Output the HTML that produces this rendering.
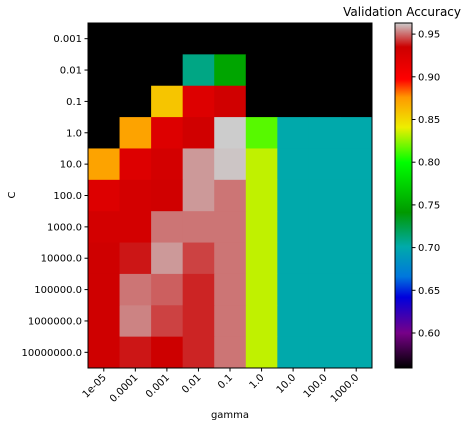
<!DOCTYPE html>
<html><head><meta charset="utf-8"><style>
body{margin:0;background:#fff;}
svg{display:block;font-family:"DejaVu Sans","Liberation Sans",sans-serif;}
</style></head><body>
<svg id="chart" width="469" height="428" viewBox="0 0 469 428" xmlns="http://www.w3.org/2000/svg">
<text x="461" y="16" text-anchor="end" font-size="12">Validation Accuracy</text>
<text x="230" y="418" text-anchor="middle" font-size="10">gamma</text>
<text x="15" y="195" text-anchor="middle" font-size="10" transform="rotate(-90 15 195)">C</text>
<defs><linearGradient id="cbg" x1="0" y1="1" x2="0" y2="0"></linearGradient></defs>
<g id="cells"></g><g id="axes"></g><g id="cbar"></g>
</svg>
<script>
const gammas = ["1e-05","0.0001","0.001","0.01","0.1","1.0","10.0","100.0","1000.0"];
const Cs = ["0.001","0.01","0.1","1.0","10.0","100.0","1000.0","10000.0","100000.0","1000000.0","10000000.0"];
const scores = [
 [0.55,0.55,0.55,0.55,0.55,0.55,0.55,0.55,0.55],
 [0.55,0.55,0.55,0.71,0.748,0.55,0.55,0.55,0.55],
 [0.55,0.55,0.858,0.922,0.932,0.55,0.55,0.55,0.55],
 [0.55,0.872,0.922,0.932,0.963,0.815,0.70,0.70,0.70],
 [0.872,0.922,0.93,0.956,0.962,0.833,0.70,0.70,0.70],
 [0.922,0.93,0.932,0.956,0.951,0.833,0.70,0.70,0.70],
 [0.93,0.93,0.951,0.951,0.951,0.833,0.70,0.70,0.70],
 [0.933,0.938,0.956,0.944,0.951,0.833,0.70,0.70,0.70],
 [0.933,0.951,0.948,0.940,0.951,0.833,0.70,0.70,0.70],
 [0.933,0.953,0.944,0.940,0.951,0.833,0.70,0.70,0.70],
 [0.933,0.938,0.934,0.940,0.951,0.833,0.70,0.70,0.70]
];
const cbTicks = [0.60,0.65,0.70,0.75,0.80,0.85,0.90,0.95];
const stopVals = [0.559,0.60,0.642,0.666,0.701,0.741,0.80,0.841,0.876,0.897,0.935,0.963];
const stopCols = [[0,0,0],[119,0,136],[0,0,221],[0,119,221],[0,170,170],[0,153,0],[0,255,0],[238,238,0],[255,153,0],[255,0,0],[204,0,0],[204,204,204]];
const vmin=0.559, vmax=0.963;
function cmap(v){
  v=Math.max(vmin,Math.min(vmax,v));
  for(let i=0;i<stopVals.length-1;i++){
    if(v<=stopVals[i+1]){const t=(v-stopVals[i])/(stopVals[i+1]-stopVals[i]);
      const c=stopCols[i].map((a,k)=>Math.round(a+(stopCols[i+1][k]-a)*t));
      return `rgb(${c[0]},${c[1]},${c[2]})`;}
  }
  return 'rgb(204,204,204)';
}
const NS="http://www.w3.org/2000/svg";
const X0=88,X1=372,Y0=23,Y1=368;
const cw=(X1-X0)/gammas.length, ch=(Y1-Y0)/Cs.length;
const xs=i=>X0+i*cw, ys=j=>Y0+j*ch;
function mk(tag,attrs,parent){const e=document.createElementNS(NS,tag);for(const k in attrs)e.setAttribute(k,attrs[k]);parent.appendChild(e);return e;}
const cells=document.getElementById('cells'), axes=document.getElementById('axes'), cb=document.getElementById('cbar');
scores.forEach((row,j)=>row.forEach((v,i)=>{
  const r=mk('rect',{x:xs(i),y:ys(j),width:cw+0.5,height:ch+0.5,fill:cmap(v)},cells);
  
  
}));
const fr=mk('rect',{x:X0,y:Y0,width:X1-X0,height:Y1-Y0,fill:'none',stroke:'#000','stroke-width':1},axes);


gammas.forEach((g,i)=>{
  const cx=xs(i)+cw/2;
  mk('line',{x1:cx,x2:cx,y1:Y1,y2:Y1+3.5,stroke:'#000'},axes);
  const t=mk('text',{x:cx+3,y:Y1+10,'font-size':10,'text-anchor':'end',transform:`rotate(-45 ${cx+3} ${Y1+10})`},axes);
  t.textContent=g;
  
  
});
Cs.forEach((c,j)=>{
  const cy=ys(j)+ch/2;
  mk('line',{x1:X0-3.5,x2:X0,y1:cy,y2:cy,stroke:'#000'},axes);
  const t=mk('text',{x:X0-6,y:cy+3.5,'font-size':10,'text-anchor':'end'},axes);
  t.textContent=c;
  
  
});
const CX=395,CW=17;
const grad=document.getElementById('cbg');
stopVals.forEach((v,i)=>{mk('stop',{offset:(v-vmin)/(vmax-vmin),'stop-color':`rgb(${stopCols[i].join(',')})`},grad);});
const cbr=mk('rect',{x:CX,y:Y0,width:CW,height:Y1-Y0,fill:'url(#cbg)',stroke:'#000','stroke-width':1},cb);


const cy=v=>Y1-(v-vmin)/(vmax-vmin)*(Y1-Y0);
cbTicks.forEach(v=>{
  const y=cy(v);
  mk('line',{x1:CX+CW,x2:CX+CW+3.5,y1:y,y2:y,stroke:'#000'},cb);
  const t=mk('text',{x:CX+CW+6,y:y+3.5,'font-size':10},cb);
  t.textContent=v.toFixed(2);
  
  
});
</script>
</body></html>
